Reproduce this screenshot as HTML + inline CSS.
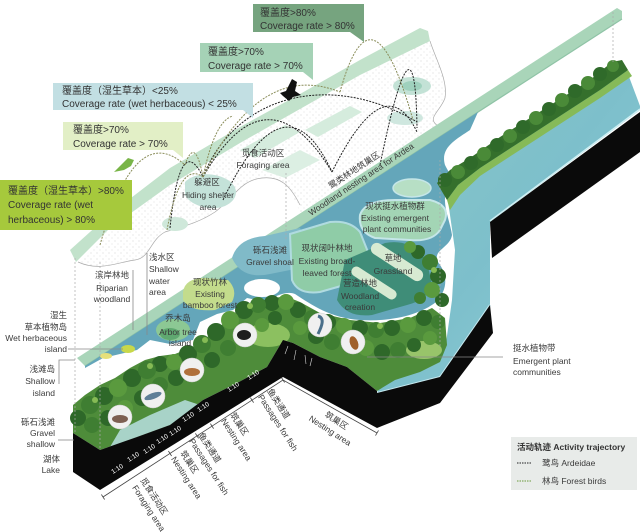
<!DOCTYPE html>
<html><head><meta charset="utf-8">
<style>
html,body{margin:0;padding:0;background:#fff;}
svg{display:block;}
text{font-family:"Liberation Sans","Noto Sans CJK SC",sans-serif;fill:#3a3a3a;}
.m{font-size:8.5px;}
.b{font-size:10px;fill:#333;}
.w{font-size:6.5px;fill:#fff;}
</style></head><body>
<svg width="640" height="532" viewBox="0 0 640 532" xmlns="http://www.w3.org/2000/svg">
<defs>
<pattern id="dots" width="6" height="6" patternUnits="userSpaceOnUse"><circle cx="1" cy="1" r="0.45" fill="#bdbdbd"/><circle cx="4" cy="4" r="0.45" fill="#cfcfcf"/></pattern>
<linearGradient id="rw" x1="0" y1="0" x2="1" y2="1"><stop offset="0" stop-color="#8ac8c6"/><stop offset="0.5" stop-color="#7dbfcb"/><stop offset="1" stop-color="#90d0da"/></linearGradient>
</defs>
<rect width="640" height="532" fill="#fff"/>

<!-- upper floating layer -->
<path d="M78,262 L110,228 L170,185 L240,143 L300,109 L360,75 L430,41 C436,60 448,80 445,98 C440,112 426,118 438,125 L300,213 C290,185 280,176 262,178 C240,180 232,200 215,212 C200,222 185,226 165,232 C150,240 150,258 135,260 C118,262 100,272 78,262 Z" fill="url(#dots)"/>
<path d="M78,262 C100,272 118,262 135,260 C150,258 150,240 165,232 C185,226 200,222 215,212 C232,200 240,180 262,178 C280,176 290,185 300,205" fill="none" stroke="#aaa" stroke-width="0.7"/>
<path d="M430,41 C436,60 448,80 445,98 C440,112 426,118 438,126 C450,134 448,145 440,152" fill="none" stroke="#aaa" stroke-width="0.7"/>
<polygon points="240,150 285,125 300,132 255,158" fill="#d5ecdd"/>
<polygon points="305,130 350,106 362,112 318,137" fill="#d5ecdd"/>
<polygon points="262,170 300,150 320,160 285,178" fill="#dcefe3"/>
<path d="M185,182 C195,172 215,172 228,180 C240,188 238,200 225,206 C210,212 190,205 185,195 Z" fill="#c4e2d9"/>
<ellipse cx="175" cy="224" rx="13" ry="7" fill="#cfe8da"/>
<ellipse cx="412" cy="86" rx="19" ry="9" fill="#c3e2d6"/>
<ellipse cx="412" cy="86" rx="10" ry="5" fill="#9fd1bd"/>
<ellipse cx="405" cy="118" rx="18" ry="7" fill="#cfe7df"/>
<polygon points="70,250 110,214 170,168 240,127 300,94 360,60 420,28 428,31 430,41 360,75 300,109 240,143 170,185 110,228 76,262" fill="#c2e2cb"/>

<!-- second band layer -->
<polygon points="77,358 617,8 622,11 622,19 85,366" fill="#a9d5b9"/>
<line x1="85" y1="366" x2="622" y2="19" stroke="#8fc3a6" stroke-width="1.2"/>
<path d="M85,366 L478,112 L470,130 C455,140 440,148 445,165 C450,175 455,180 448,190 C440,200 450,220 452,235 C450,248 432,250 438,262 C448,275 448,290 436,302 C420,315 390,322 360,320 C330,318 312,305 295,294 C285,290 275,298 262,301 L247,298 L233,310 L217,314 L200,322 L193,340 L170,344 L150,340 L137,350 L103,358 L85,368 Z" fill="#64a6ba"/>
<path d="M232,258 Q238,238 265,236 L300,228 Q312,250 300,268 L270,274 Q242,280 232,258 Z" fill="#80bac8"/>
<path d="M290,234 L330,222 Q350,220 360,232 L372,262 Q370,275 355,282 L320,292 Q298,295 292,280 Z" fill="#8fcca7" stroke="#b0dbe0" stroke-width="2"/>
<path d="M345,260 L385,243 Q412,238 427,262 L432,285 Q427,300 407,305 L372,315 Q347,318 337,300 Z" fill="#3f8d78"/>
<rect x="-30" y="-6" width="60" height="12" rx="6" transform="translate(397,262) rotate(33)" fill="#d7ead2"/>
<rect x="-26" y="-5" width="52" height="10" rx="5" transform="translate(374,283) rotate(33)" fill="#d7ead2"/>
<path d="M360,215 Q365,200 395,200 L430,200 Q450,205 445,220 L440,230 Q432,242 410,240 L375,238 Q358,232 360,215 Z" fill="#a3d5b5" stroke="#c5e6e8" stroke-width="2"/>
<ellipse cx="412" cy="188" rx="19" ry="9" fill="#b7dfc5" stroke="#c5e6e8" stroke-width="1.5"/>
<path d="M183,292 Q185,278 205,278 L228,280 Q238,290 232,302 L215,310 Q190,312 183,300 Z" fill="#c3dc8c"/>
<ellipse cx="173" cy="330" rx="17" ry="11" fill="#8cc894"/>
<ellipse cx="170" cy="334" rx="10" ry="6" fill="#5fa870"/>
<ellipse cx="106" cy="356" rx="6" ry="3" fill="#e6e07a"/>
<ellipse cx="128" cy="349" rx="7" ry="4" fill="#c8d84a"/>
<ellipse cx="262" cy="288" rx="18" ry="9" fill="#fff"/>

<!-- right water + tree line -->
<path d="M625,66 L640,106 L640,110 L490,222 L490,305 L440,377 L377,393 L380,385 L420,368 L445,350 L452,300 L455,250 L450,215 L447,195 L440,185 Z" fill="url(#rw)"/>
<line x1="490" y1="221" x2="640" y2="109" stroke="#cdeff3" stroke-width="1.5"/>
<polyline points="377,393 440,377 490,305" fill="none" stroke="#c4e8ef" stroke-width="2"/>
<path d="M447,200 L458,185 L480,168 L520,142 L560,116 L600,90 L628,70 L632,76 L600,98 L560,124 L520,150 L480,176 L460,195 L450,210 Z" fill="#86ba58"/>
<path d="M437,183 L450,170 L470,158 L500,137 L530,118 L560,99 L590,80 L612,62 L622,60 L628,70 L600,90 L560,116 L520,142 L480,168 L458,185 L447,200 Z" fill="#35702c"/>
<g fill="#2f6a2a">
<circle cx="445" cy="180" r="7"/><circle cx="471" cy="163" r="7"/><circle cx="497" cy="145" r="7"/><circle cx="523" cy="127" r="7"/><circle cx="549" cy="109" r="7"/><circle cx="575" cy="91" r="7"/><circle cx="600" cy="74" r="7"/>
</g>
<g fill="#4a8a38">
<circle cx="458" cy="172" r="7"/><circle cx="484" cy="154" r="7"/><circle cx="510" cy="136" r="7"/><circle cx="536" cy="118" r="7"/><circle cx="562" cy="100" r="7"/><circle cx="588" cy="83" r="7"/><circle cx="613" cy="66" r="6"/>
</g>

<!-- land -->
<path d="M73,405 L85,395 L100,385 L115,378 L130,368 L145,360 L160,356 L175,354 L195,346 L210,335 L225,322 L240,310 L255,302 L270,299 L285,296 L300,302 L320,313 L350,320 L380,323 L410,318 L432,308 L445,318 L447,345 L440,362 L420,372 L395,380 L377,391 L347,367 L320,357 L293,343 L283,340 L267,367 L237,383 L203,400 L170,425 L137,437 L100,450 L73,433 Z" fill="#4e8c3a"/>
<ellipse cx="268" cy="335" rx="22" ry="12" fill="#8cc060"/>
<ellipse cx="424" cy="350" rx="18" ry="9" fill="#98c46a"/>
<g fill="#2e6829">
<circle cx="78" cy="418" r="8"/><circle cx="104" cy="396" r="9"/><circle cx="132" cy="378" r="9"/><circle cx="160" cy="364" r="8"/><circle cx="188" cy="354" r="9"/><circle cx="216" cy="332" r="9"/><circle cx="244" cy="310" r="9"/><circle cx="272" cy="303" r="8"/>
<circle cx="108" cy="418" r="8"/><circle cx="142" cy="398" r="8"/><circle cx="176" cy="378" r="8"/><circle cx="212" cy="360" r="8"/><circle cx="245" cy="335" r="8"/><circle cx="275" cy="318" r="7"/>
<circle cx="298" cy="310" r="8"/><circle cx="328" cy="322" r="8"/><circle cx="360" cy="328" r="8"/><circle cx="392" cy="328" r="8"/><circle cx="424" cy="318" r="8"/>
<circle cx="316" cy="336" r="8"/><circle cx="350" cy="344" r="8"/><circle cx="382" cy="352" r="8"/><circle cx="414" cy="345" r="7"/>
<circle cx="418" cy="252" r="7"/><circle cx="438" cy="276" r="8"/><circle cx="442" cy="300" r="7"/>
</g>
<g fill="#3f7e32">
<circle cx="90" cy="405" r="9"/><circle cx="147" cy="370" r="9"/><circle cx="202" cy="344" r="9"/><circle cx="258" cy="305" r="8"/>
<circle cx="92" cy="425" r="8"/><circle cx="160" cy="385" r="8"/><circle cx="228" cy="348" r="8"/>
<circle cx="312" cy="318" r="8"/><circle cx="376" cy="330" r="8"/><circle cx="438" cy="322" r="7"/>
<circle cx="332" cy="342" r="8"/><circle cx="398" cy="350" r="8"/>
<circle cx="430" cy="262" r="8"/><circle cx="420" cy="298" r="6"/>
</g>
<g fill="#5a9a3e">
<circle cx="118" cy="388" r="9"/><circle cx="174" cy="362" r="8"/><circle cx="230" cy="320" r="9"/><circle cx="286" cy="302" r="8"/>
<circle cx="125" cy="408" r="8"/><circle cx="195" cy="370" r="8"/><circle cx="262" cy="325" r="7"/>
<circle cx="344" cy="326" r="8"/><circle cx="408" cy="325" r="8"/><circle cx="300" cy="328" r="7"/><circle cx="366" cy="348" r="8"/><circle cx="430" cy="338" r="7"/>
<circle cx="432" cy="290" r="8"/><circle cx="410" cy="247" r="6"/>
</g>
<g fill="#86bb55">
<circle cx="95" cy="400" r="3"/><circle cx="150" cy="366" r="3"/><circle cx="205" cy="340" r="3"/><circle cx="250" cy="306" r="3"/><circle cx="320" cy="316" r="3"/><circle cx="380" cy="326" r="3"/><circle cx="434" cy="270" r="3"/>
</g>
<path d="M110,447 L137,437 L170,425 L200,405 L185,400 L150,415 L120,430 Z" fill="#a8d3c8"/>

<!-- black faces -->
<g fill="#0a0a0a">
<polygon points="73,433 100,450 100,490 73,472"/>
<polygon points="100,450 137,437 170,425 203,400 237,383 267,367 283,340 283,377 100,490"/>
<polygon points="283,340 293,343 320,357 347,367 377,391 377,428 283,377"/>
<polygon points="377,393 440,377 490,305 493,333 440,403 377,428"/>
<polygon points="490,222 640,112 640,152 492,258"/>
</g>
<g stroke="#d8d8d8" stroke-width="0.6" fill="none">
<path d="M288,346 l-3,8 M296,350 l-2,10 M305,355 l1,9 M312,358 l-2,8"/>
</g>

<!-- 1:10 labels -->
<g>
<text class="w" transform="translate(113,474) rotate(-33)">1:10</text>
<text class="w" transform="translate(129,462) rotate(-33)">1:10</text>
<text class="w" transform="translate(145,454) rotate(-33)">1:10</text>
<text class="w" transform="translate(158,444) rotate(-33)">1:10</text>
<text class="w" transform="translate(171,436) rotate(-33)">1:10</text>
<text class="w" transform="translate(184,422) rotate(-33)">1:10</text>
<text class="w" transform="translate(199,412) rotate(-33)">1:10</text>
<text class="w" transform="translate(229,392) rotate(-33)">1:10</text>
<text class="w" transform="translate(249,380) rotate(-33)">1:10</text>
</g>

<!-- bird circles -->
<g fill="#f0f0f0" stroke="#d0d0d0" stroke-width="0.5">
<circle cx="120" cy="417" r="12"/><circle cx="153" cy="396" r="12"/><circle cx="192" cy="370" r="12"/><circle cx="245" cy="335" r="12"/><circle cx="320" cy="325" r="12"/><circle cx="353" cy="342" r="12"/>
</g>
<ellipse cx="120" cy="419" rx="8" ry="4" fill="#7d5f52"/>
<ellipse cx="153" cy="396" rx="9" ry="3" fill="#5f7f98" transform="rotate(-20 153 396)"/>
<ellipse cx="192" cy="372" rx="8" ry="4" fill="#b0703c"/>
<ellipse cx="244" cy="335" rx="7" ry="5" fill="#1e1e1e"/>
<path d="M318,316 C325,318 322,326 318,334" stroke="#4a6f8a" stroke-width="3" fill="none"/>
<ellipse cx="354" cy="343" rx="4" ry="7" fill="#a0602a" transform="rotate(-20 354 343)"/>

<!-- dashed verticals & leader lines -->
<g stroke="#aaa" stroke-width="0.7" stroke-dasharray="2,2" fill="none">
<line x1="75" y1="258" x2="75" y2="433"/><line x1="100" y1="262" x2="100" y2="450"/>
<line x1="286" y1="173" x2="286" y2="240"/><line x1="613" y1="12" x2="613" y2="62"/><line x1="440" y1="160" x2="440" y2="347"/>
</g>
<g stroke="#888" stroke-width="0.8" fill="none">
<line x1="133" y1="270" x2="133" y2="330"/><line x1="147" y1="253" x2="147" y2="335"/>
<line x1="68" y1="349" x2="123" y2="349"/>
<polyline points="59,384 59,360 75,360"/>
<line x1="58" y1="440" x2="74" y2="440"/>
<line x1="367" y1="357" x2="503" y2="357"/>
</g>

<!-- trajectories -->
<g fill="none" stroke="#222" stroke-width="1" stroke-dasharray="2,1.2">
<path d="M203,177 C235,95 330,70 417,122"/>
<path d="M203,177 Q267,65 332,172"/>
<path d="M332,172 Q385,65 417,132"/>
<path d="M223,200 Q285,70 332,172"/>
<path d="M170,228 Q180,130 203,177"/>
<path d="M380,165 Q415,-5 417,128"/>
</g>
<g fill="none" stroke="#8a8d5a" stroke-width="1" stroke-dasharray="2,1.2">
<path d="M203,177 Q215,120 233,116"/>
<path d="M203,177 Q260,60 340,92"/>
<path d="M340,92 Q372,-25 413,120"/>
<path d="M100,245 Q135,120 185,165"/>
<path d="M185,165 Q195,135 203,177"/>
<path d="M167,230 Q180,160 203,177"/>
</g>
<polygon points="280,93 286,91 292,79 297,82 295,91 301,95 293,97 289,101 283,96" fill="#111"/>
<path d="M114,172 L122,164 L128,158 L134,160 L131,166 L124,170 Z" fill="#79b548"/>

<!-- callout boxes -->
<rect x="253" y="4" width="111" height="28" fill="#76a47f"/><polygon points="350,32 364,32 364,42" fill="#76a47f"/>
<text class="b" x="260" y="16">覆盖度&gt;80%</text><text class="b" x="260" y="29">Coverage rate &gt; 80%</text>
<rect x="200" y="43" width="113" height="29" fill="#a5d2b6"/><polygon points="303,72 313,72 313,80" fill="#a5d2b6"/>
<text class="b" x="208" y="55">覆盖度&gt;70%</text><text class="b" x="208" y="69">Coverage rate &gt; 70%</text>
<rect x="53" y="83" width="200" height="27" fill="#c2dfe3"/><polygon points="243,110 253,110 253,118" fill="#c2dfe3"/>
<text class="b" x="62" y="94">覆盖度（湿生草本）&lt;25%</text><text class="b" x="62" y="107">Coverage rate (wet herbaceous) &lt; 25%</text>
<rect x="63" y="122" width="120" height="28" fill="#e2efc6"/><polygon points="173,150 183,150 183,158" fill="#e2efc6"/>
<text class="b" x="73" y="133">覆盖度&gt;70%</text><text class="b" x="73" y="147">Coverage rate &gt; 70%</text>
<rect x="0" y="180" width="132" height="50" fill="#a6c93c"/>
<text class="b" x="8" y="194">覆盖度（湿生草本）&gt;80%</text><text class="b" x="8" y="208">Coverage rate (wet</text><text class="b" x="8" y="223">herbaceous) &gt; 80%</text>

<!-- map labels -->
<g class="m" text-anchor="middle">
<text class="m" x="263" y="156">觅食活动区</text><text class="m" x="263" y="168">Foraging area</text>
<text class="m" x="207" y="185">躲避区</text><text class="m" x="208" y="198">Hiding shelter</text><text class="m" x="208" y="210">area</text>
<text class="m" x="112" y="278">滨岸林地</text><text class="m" x="112" y="291">Riparian</text><text class="m" x="112" y="302">woodland</text>
<text class="m" x="210" y="285">现状竹林</text><text class="m" x="210" y="297">Existing</text><text class="m" x="210" y="308">bamboo forest</text>
<text class="m" x="178" y="321">乔木岛</text><text class="m" x="178" y="335">Arbor tree</text><text class="m" x="180" y="346">island</text>
<text class="m" x="270" y="253">砾石浅滩</text><text class="m" x="270" y="265">Gravel shoal</text>
<text class="m" x="327" y="251">现状阔叶林地</text><text class="m" x="327" y="264">Existing broad-</text><text class="m" x="327" y="276">leaved forest</text>
<text class="m" x="393" y="261">草地</text><text class="m" x="393" y="274">Grassland</text>
<text class="m" x="360" y="286">营造林地</text><text class="m" x="360" y="299">Woodland</text><text class="m" x="360" y="310">creation</text>
<text class="m" x="395" y="209">现状挺水植物群</text><text class="m" x="395" y="221">Existing emergent</text><text class="m" x="397" y="232">plant communities</text>
</g>
<text class="m" x="149" y="260">浅水区</text><text class="m" x="149" y="272">Shallow</text><text class="m" x="149" y="284">water</text><text class="m" x="149" y="295">area</text>
<g text-anchor="end">
<text class="m" x="67" y="318">湿生</text><text class="m" x="67" y="330">草本植物岛</text><text class="m" x="67" y="341">Wet herbaceous</text><text class="m" x="67" y="352">island</text>
<text class="m" x="55" y="372">浅滩岛</text><text class="m" x="55" y="384">Shallow</text><text class="m" x="55" y="396">island</text>
<text class="m" x="55" y="425">砾石浅滩</text><text class="m" x="55" y="436">Gravel</text><text class="m" x="55" y="447">shallow</text>
<text class="m" x="60" y="462">湖体</text><text class="m" x="60" y="473">Lake</text>
</g>
<text class="m" transform="translate(311,216) rotate(-33.5)">Woodland nesting area for Ardea</text>
<text class="m" transform="translate(331,189) rotate(-33.5)">鹭类林地筑巢区</text>
<text class="m" x="513" y="351">挺水植物带</text><text class="m" x="513" y="364">Emergent plant</text><text class="m" x="513" y="375">communities</text>

<!-- dimension lines -->
<g stroke="#444" stroke-width="0.8" fill="none">
<line x1="103" y1="497" x2="283" y2="380"/>
<line x1="283" y1="380" x2="377" y2="433"/>
<path d="M101.4,494.5 l3.2,5 M168.4,451 l3.2,5 M195.4,433.4 l3.2,5 M210.4,423.6 l3.2,5 M250.4,397.6 l3.2,5 M281.4,377.5 l3.2,5 M378.5,430.4 l-3,5.2"/>
</g>
<g class="m">
<g transform="translate(140,480) rotate(57)"><text class="m" x="0" y="0">觅食活动区</text><text class="m" x="2" y="11">Foraging area</text></g>
<g transform="translate(180,453) rotate(57)"><text class="m" x="0" y="0">筑巢区</text><text class="m" x="0" y="11">Nesting area</text></g>
<g transform="translate(198,435) rotate(57)"><text class="m" x="0" y="0">鱼类通道</text><text class="m" x="0" y="11">Passages for fish</text></g>
<g transform="translate(230,415) rotate(57)"><text class="m" x="0" y="0">筑巢区</text><text class="m" x="0" y="11">Nesting area</text></g>
<g transform="translate(267,391) rotate(57)"><text class="m" x="0" y="0">鱼类通道</text><text class="m" x="0" y="11">Passages for fish</text></g>
<g transform="translate(335,423) rotate(33)" text-anchor="middle"><text class="m" x="0" y="0">筑巢区</text><text class="m" x="0" y="12">Nesting area</text></g>
</g>

<!-- legend -->
<rect x="511" y="437" width="126" height="53" fill="#e8ebe9"/>
<text x="517" y="450" style="font-size:8.5px;font-weight:bold;fill:#333">活动轨迹  Activity trajectory</text>
<line x1="517" y1="463" x2="532" y2="463" stroke="#222" stroke-width="1" stroke-dasharray="1.5,1"/>
<text class="m" x="542" y="466">鹭鸟  Ardeidae</text>
<line x1="517" y1="481" x2="532" y2="481" stroke="#6a9a3a" stroke-width="1" stroke-dasharray="1.5,1"/>
<text class="m" x="542" y="484">林鸟  Forest birds</text>
</svg>
</body></html>
